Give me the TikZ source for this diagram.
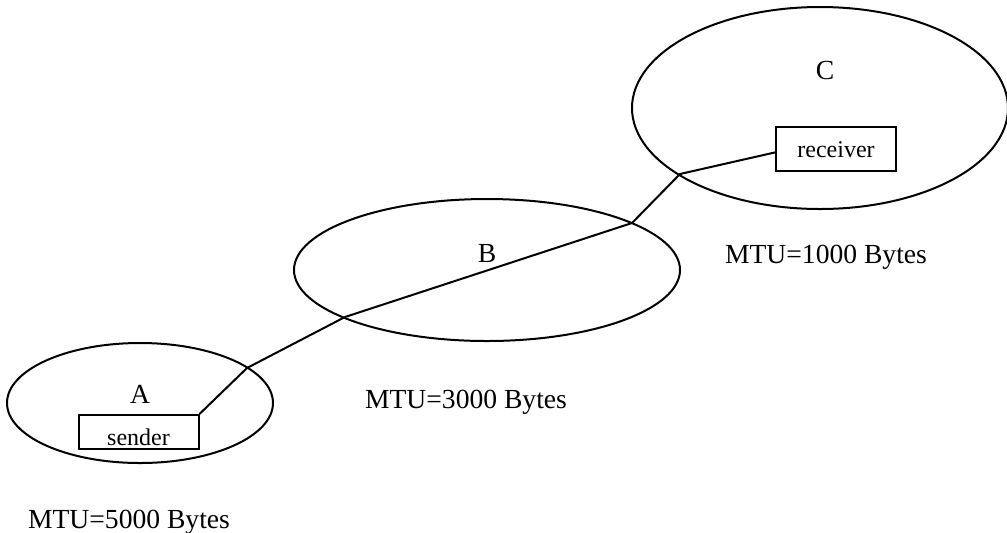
\documentclass[tikz,border=0pt]{standalone}
\usepackage{fontspec}
\setmainfont{Liberation Serif}
\usepackage{tikz}
\usetikzlibrary{positioning, shapes.geometric}
\tikzset{
	every node/.append style={
		font={\fontsize{13.8}{16}\selectfont},
	},
	net/.append style={
		draw,
		ellipse,
		inner sep=0mm,
		line width=1pt,
	},
	host/.append style={
		draw,
		inner sep=0mm,
		minimum width=60pt,
		text height=15pt,
		anchor=base,
		line width=1pt,
		font={\fontsize{12}{14}\selectfont},
	},
	mtu/.append style={
		anchor=base,
	},
	link/.append style={
		line width=1pt,
	}
}

\begin{document}
\begin{tikzpicture}[x=0.5pt, y=-0.5pt]
		\useasboundingbox (0,0) rectangle (1007,532);

		\node(netA)[net, minimum width=133pt, minimum height=60pt] at (140,403) {};
		\node(netB)[net, minimum width=193pt, minimum height=71pt] at (487,270) {};
		\node(netC)[net, minimum width=188pt, minimum height=101pt] at (820,108) {};

		\node(nameA)[mtu] at (140,403) {A};
		\node(nameB)[mtu] at (487,262) {B};
		\node(nameC)[mtu] at (825,79) {C};

		\node(sender)[host, text depth=2pt] at (138.5,445) {sender};
		\node(receiver)[host, text depth=7pt] at (836,157) {receiver};

		% where the path crosses the network borders
		\coordinate (kA)  at (247,368);
		\coordinate (kB1) at (345,317);
		\coordinate (kB2) at (632,223);
		\coordinate (kC)  at (680,174);

		\draw[link] (sender.north east) -- (kA) -- (kB1) -- (kB2) -- (kC) -- (receiver.mid west);

		\node(mtuA)[mtu] at (129,528) {MTU=5000 Bytes};
		\node(mtuB)[mtu] at (466,408) {MTU=3000 Bytes};
		\node(mtuC)[mtu] at (826,263) {MTU=1000 Bytes};
		\end{tikzpicture}
\end{document}
